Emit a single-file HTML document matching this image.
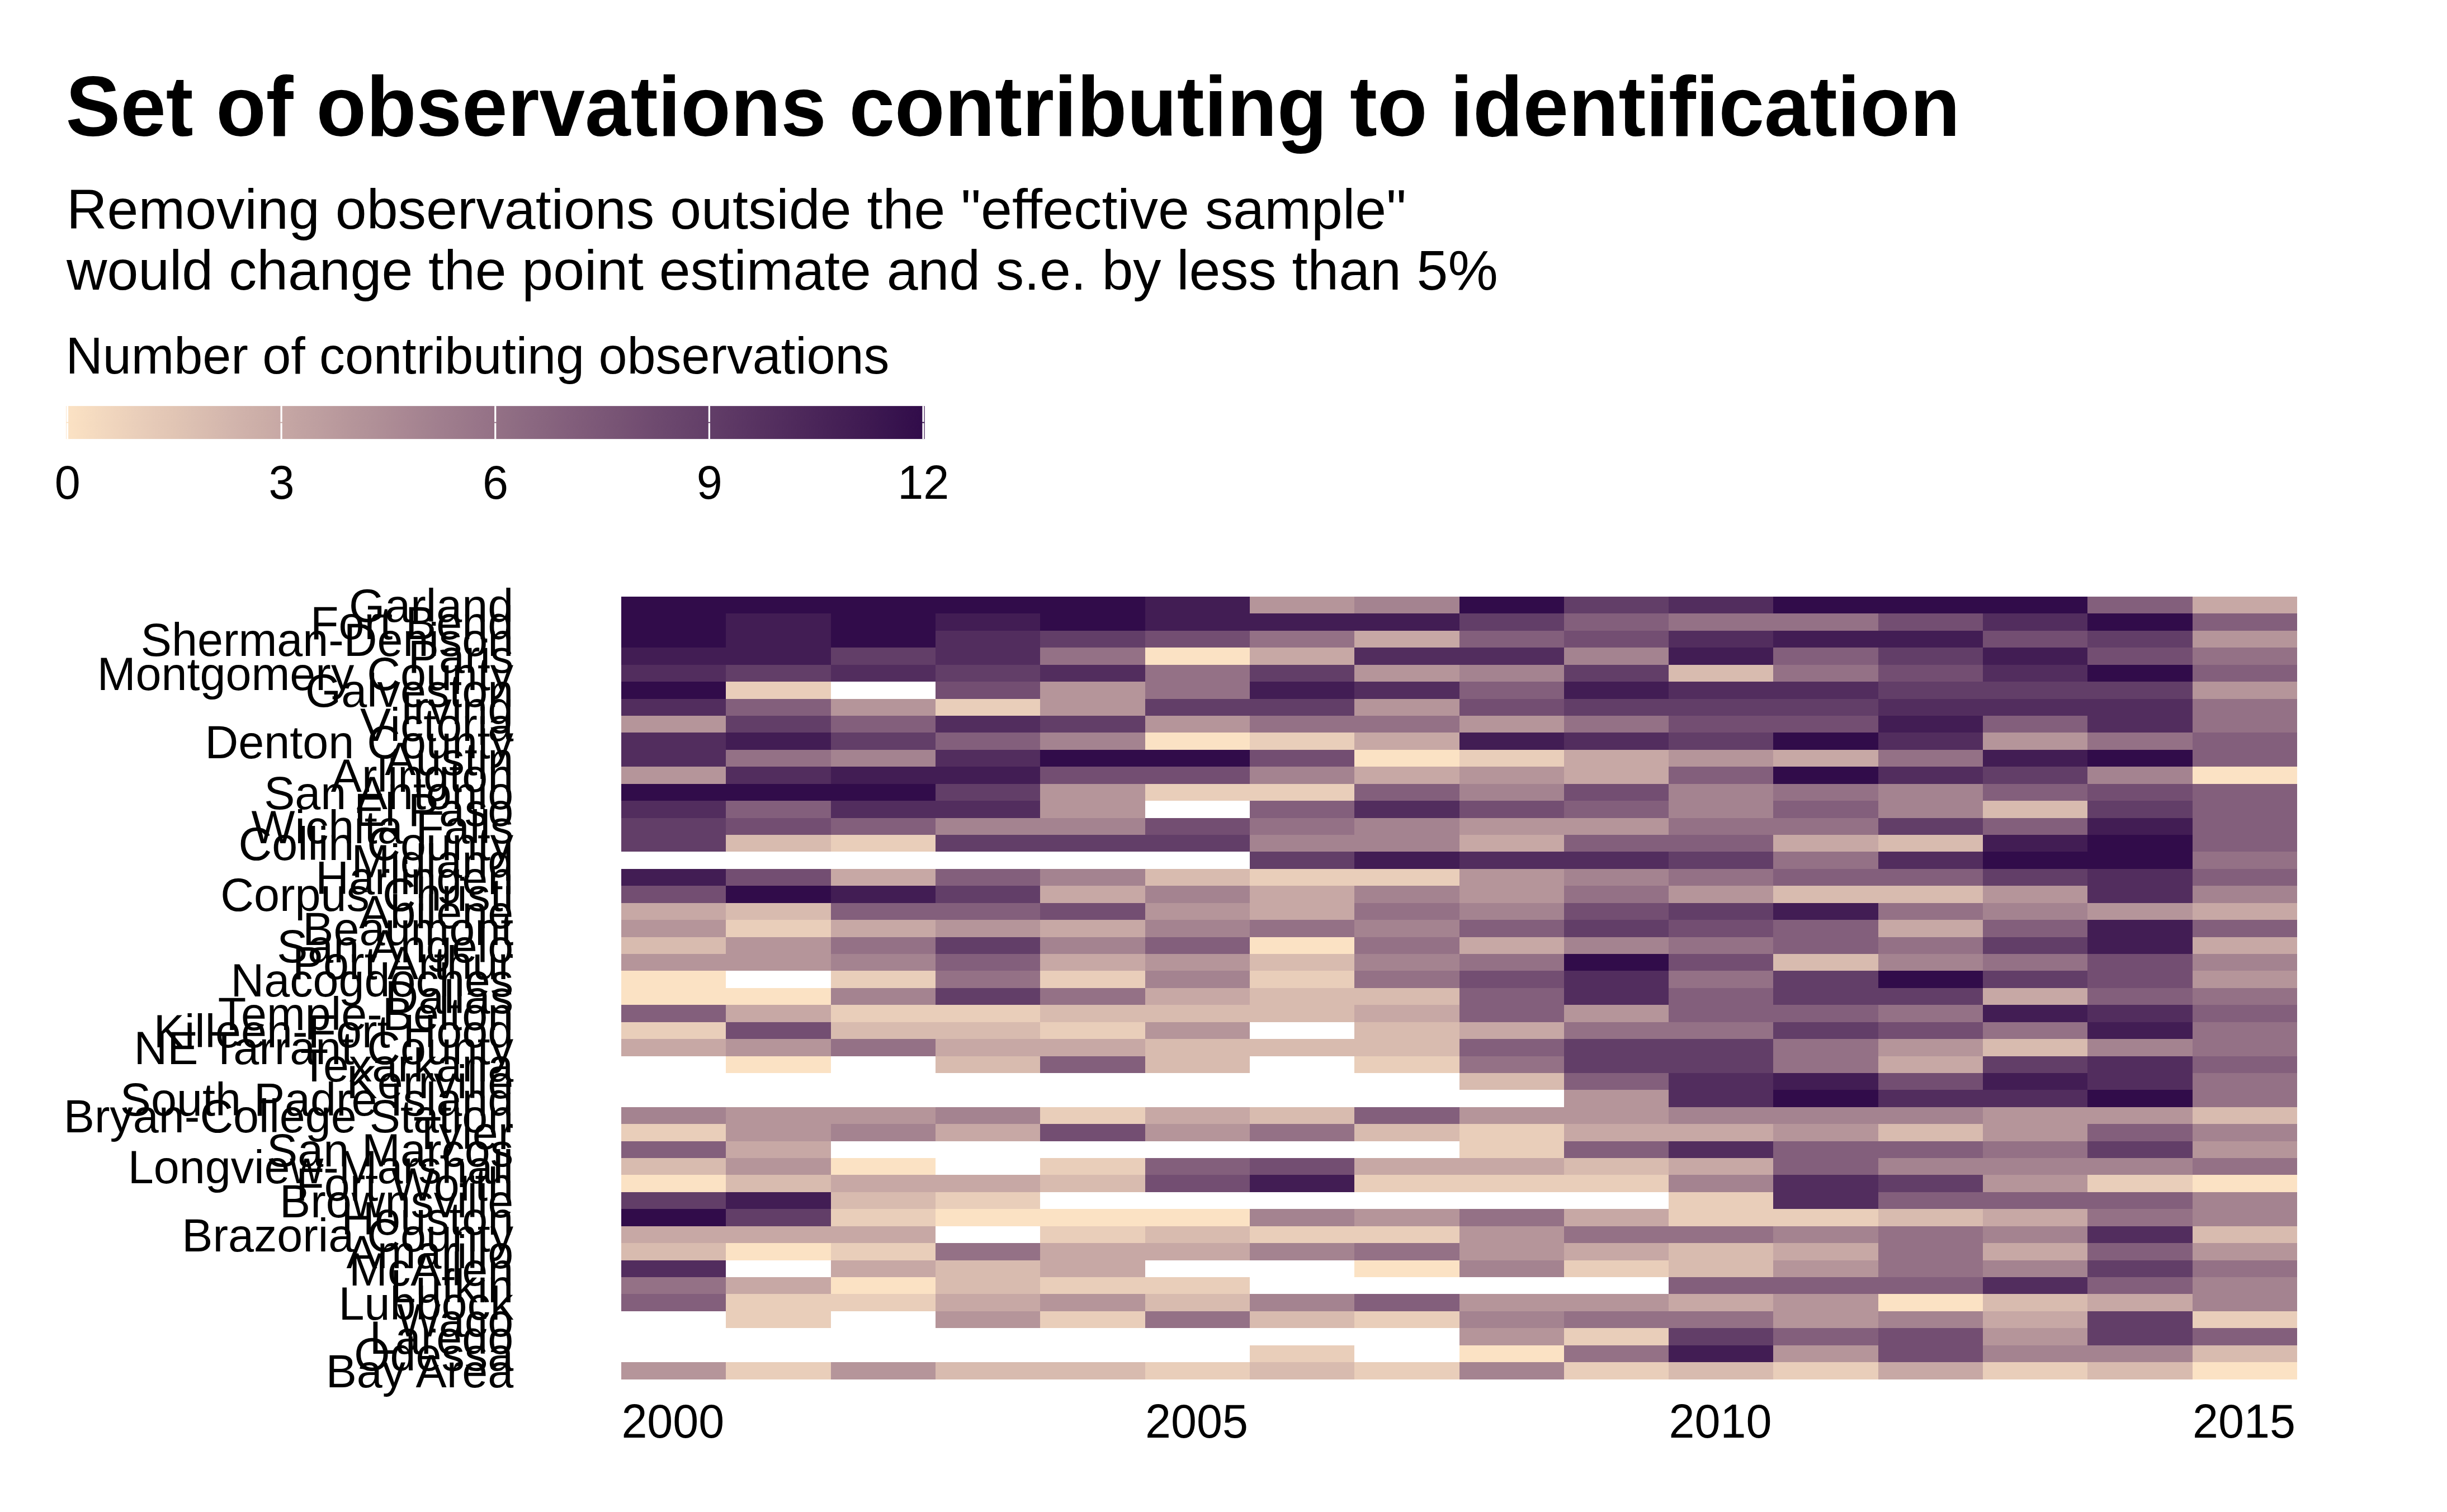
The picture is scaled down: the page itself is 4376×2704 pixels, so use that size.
<!DOCTYPE html>
<html><head><meta charset="utf-8"><title>Set of observations contributing to identification</title>
<style>html,body{margin:0;padding:0;background:#fff;}svg{display:block}text{font-family:"Liberation Sans",sans-serif;fill:#000}</style></head>
<body><svg width="4376" height="2704" viewBox="0 0 4376 2704"><defs><linearGradient id="lg" gradientUnits="userSpaceOnUse" x1="120.5" x2="1651" y1="0" y2="0"><stop offset="0.0000" stop-color="#fbe2c4"/><stop offset="0.0208" stop-color="#f7ddc1"/><stop offset="0.0417" stop-color="#f2d8bf"/><stop offset="0.0625" stop-color="#eed3bc"/><stop offset="0.0833" stop-color="#e9ceba"/><stop offset="0.1042" stop-color="#e5c9b7"/><stop offset="0.1250" stop-color="#e1c5b4"/><stop offset="0.1458" stop-color="#dcc0b2"/><stop offset="0.1667" stop-color="#d8bbaf"/><stop offset="0.1875" stop-color="#d3b6ad"/><stop offset="0.2083" stop-color="#cfb1aa"/><stop offset="0.2292" stop-color="#cbada7"/><stop offset="0.2500" stop-color="#c7a8a5"/><stop offset="0.2708" stop-color="#c2a3a2"/><stop offset="0.2917" stop-color="#be9fa0"/><stop offset="0.3125" stop-color="#ba9a9d"/><stop offset="0.3333" stop-color="#b5959a"/><stop offset="0.3542" stop-color="#b19198"/><stop offset="0.3750" stop-color="#ad8c95"/><stop offset="0.3958" stop-color="#a98793"/><stop offset="0.4167" stop-color="#a48390"/><stop offset="0.4375" stop-color="#a07e8e"/><stop offset="0.4583" stop-color="#9c7a8b"/><stop offset="0.4792" stop-color="#987589"/><stop offset="0.5000" stop-color="#947186"/><stop offset="0.5208" stop-color="#8f6d83"/><stop offset="0.5417" stop-color="#8b6881"/><stop offset="0.5625" stop-color="#87647e"/><stop offset="0.5833" stop-color="#835f7c"/><stop offset="0.6042" stop-color="#7f5b79"/><stop offset="0.6250" stop-color="#7b5777"/><stop offset="0.6458" stop-color="#775374"/><stop offset="0.6667" stop-color="#734e72"/><stop offset="0.6875" stop-color="#6e4a6f"/><stop offset="0.7083" stop-color="#6a466d"/><stop offset="0.7292" stop-color="#66426a"/><stop offset="0.7500" stop-color="#623e68"/><stop offset="0.7708" stop-color="#5e3965"/><stop offset="0.7917" stop-color="#5a3563"/><stop offset="0.8125" stop-color="#563160"/><stop offset="0.8333" stop-color="#522d5e"/><stop offset="0.8542" stop-color="#4e295b"/><stop offset="0.8750" stop-color="#4a2559"/><stop offset="0.8958" stop-color="#462156"/><stop offset="0.9167" stop-color="#421d54"/><stop offset="0.9375" stop-color="#3e1951"/><stop offset="0.9583" stop-color="#39154f"/><stop offset="0.9792" stop-color="#35104c"/><stop offset="1.0000" stop-color="#310c4a"/></linearGradient></defs>
<rect width="4376" height="2704" fill="#fff"/>
<g shape-rendering="crispEdges"><rect x="1111.00" y="1067.00" width="187.31" height="30.43" fill="#310c4a"/><rect x="1298.31" y="1067.00" width="187.31" height="30.43" fill="#310c4a"/><rect x="1485.62" y="1067.00" width="187.31" height="30.43" fill="#310c4a"/><rect x="1672.94" y="1067.00" width="187.31" height="30.43" fill="#310c4a"/><rect x="1860.25" y="1067.00" width="187.31" height="30.43" fill="#310c4a"/><rect x="2047.56" y="1067.00" width="187.31" height="30.43" fill="#421d54"/><rect x="2234.88" y="1067.00" width="187.31" height="30.43" fill="#b5959a"/><rect x="2422.19" y="1067.00" width="187.31" height="30.43" fill="#a48390"/><rect x="2609.50" y="1067.00" width="187.31" height="30.43" fill="#310c4a"/><rect x="2796.81" y="1067.00" width="187.31" height="30.43" fill="#623e68"/><rect x="2984.12" y="1067.00" width="187.31" height="30.43" fill="#522d5e"/><rect x="3171.44" y="1067.00" width="187.31" height="30.43" fill="#310c4a"/><rect x="3358.75" y="1067.00" width="187.31" height="30.43" fill="#310c4a"/><rect x="3546.06" y="1067.00" width="187.31" height="30.43" fill="#310c4a"/><rect x="3733.38" y="1067.00" width="187.31" height="30.43" fill="#835f7c"/><rect x="3920.69" y="1067.00" width="187.31" height="30.43" fill="#c7a8a5"/><rect x="1111.00" y="1097.43" width="187.31" height="30.43" fill="#310c4a"/><rect x="1298.31" y="1097.43" width="187.31" height="30.43" fill="#421d54"/><rect x="1485.62" y="1097.43" width="187.31" height="30.43" fill="#310c4a"/><rect x="1672.94" y="1097.43" width="187.31" height="30.43" fill="#421d54"/><rect x="1860.25" y="1097.43" width="187.31" height="30.43" fill="#310c4a"/><rect x="2047.56" y="1097.43" width="187.31" height="30.43" fill="#421d54"/><rect x="2234.88" y="1097.43" width="187.31" height="30.43" fill="#421d54"/><rect x="2422.19" y="1097.43" width="187.31" height="30.43" fill="#421d54"/><rect x="2609.50" y="1097.43" width="187.31" height="30.43" fill="#623e68"/><rect x="2796.81" y="1097.43" width="187.31" height="30.43" fill="#835f7c"/><rect x="2984.12" y="1097.43" width="187.31" height="30.43" fill="#947186"/><rect x="3171.44" y="1097.43" width="187.31" height="30.43" fill="#947186"/><rect x="3358.75" y="1097.43" width="187.31" height="30.43" fill="#734e72"/><rect x="3546.06" y="1097.43" width="187.31" height="30.43" fill="#522d5e"/><rect x="3733.38" y="1097.43" width="187.31" height="30.43" fill="#310c4a"/><rect x="3920.69" y="1097.43" width="187.31" height="30.43" fill="#835f7c"/><rect x="1111.00" y="1127.85" width="187.31" height="30.43" fill="#310c4a"/><rect x="1298.31" y="1127.85" width="187.31" height="30.43" fill="#421d54"/><rect x="1485.62" y="1127.85" width="187.31" height="30.43" fill="#310c4a"/><rect x="1672.94" y="1127.85" width="187.31" height="30.43" fill="#522d5e"/><rect x="1860.25" y="1127.85" width="187.31" height="30.43" fill="#623e68"/><rect x="2047.56" y="1127.85" width="187.31" height="30.43" fill="#734e72"/><rect x="2234.88" y="1127.85" width="187.31" height="30.43" fill="#947186"/><rect x="2422.19" y="1127.85" width="187.31" height="30.43" fill="#c7a8a5"/><rect x="2609.50" y="1127.85" width="187.31" height="30.43" fill="#835f7c"/><rect x="2796.81" y="1127.85" width="187.31" height="30.43" fill="#734e72"/><rect x="2984.12" y="1127.85" width="187.31" height="30.43" fill="#522d5e"/><rect x="3171.44" y="1127.85" width="187.31" height="30.43" fill="#421d54"/><rect x="3358.75" y="1127.85" width="187.31" height="30.43" fill="#421d54"/><rect x="3546.06" y="1127.85" width="187.31" height="30.43" fill="#734e72"/><rect x="3733.38" y="1127.85" width="187.31" height="30.43" fill="#623e68"/><rect x="3920.69" y="1127.85" width="187.31" height="30.43" fill="#b5959a"/><rect x="1111.00" y="1158.28" width="187.31" height="30.43" fill="#421d54"/><rect x="1298.31" y="1158.28" width="187.31" height="30.43" fill="#421d54"/><rect x="1485.62" y="1158.28" width="187.31" height="30.43" fill="#623e68"/><rect x="1672.94" y="1158.28" width="187.31" height="30.43" fill="#522d5e"/><rect x="1860.25" y="1158.28" width="187.31" height="30.43" fill="#947186"/><rect x="2047.56" y="1158.28" width="187.31" height="30.43" fill="#fbe2c4"/><rect x="2234.88" y="1158.28" width="187.31" height="30.43" fill="#c7a8a5"/><rect x="2422.19" y="1158.28" width="187.31" height="30.43" fill="#522d5e"/><rect x="2609.50" y="1158.28" width="187.31" height="30.43" fill="#522d5e"/><rect x="2796.81" y="1158.28" width="187.31" height="30.43" fill="#a48390"/><rect x="2984.12" y="1158.28" width="187.31" height="30.43" fill="#421d54"/><rect x="3171.44" y="1158.28" width="187.31" height="30.43" fill="#835f7c"/><rect x="3358.75" y="1158.28" width="187.31" height="30.43" fill="#623e68"/><rect x="3546.06" y="1158.28" width="187.31" height="30.43" fill="#421d54"/><rect x="3733.38" y="1158.28" width="187.31" height="30.43" fill="#734e72"/><rect x="3920.69" y="1158.28" width="187.31" height="30.43" fill="#947186"/><rect x="1111.00" y="1188.70" width="187.31" height="30.43" fill="#522d5e"/><rect x="1298.31" y="1188.70" width="187.31" height="30.43" fill="#623e68"/><rect x="1485.62" y="1188.70" width="187.31" height="30.43" fill="#522d5e"/><rect x="1672.94" y="1188.70" width="187.31" height="30.43" fill="#623e68"/><rect x="1860.25" y="1188.70" width="187.31" height="30.43" fill="#522d5e"/><rect x="2047.56" y="1188.70" width="187.31" height="30.43" fill="#947186"/><rect x="2234.88" y="1188.70" width="187.31" height="30.43" fill="#623e68"/><rect x="2422.19" y="1188.70" width="187.31" height="30.43" fill="#b5959a"/><rect x="2609.50" y="1188.70" width="187.31" height="30.43" fill="#a48390"/><rect x="2796.81" y="1188.70" width="187.31" height="30.43" fill="#623e68"/><rect x="2984.12" y="1188.70" width="187.31" height="30.43" fill="#d8bbaf"/><rect x="3171.44" y="1188.70" width="187.31" height="30.43" fill="#947186"/><rect x="3358.75" y="1188.70" width="187.31" height="30.43" fill="#734e72"/><rect x="3546.06" y="1188.70" width="187.31" height="30.43" fill="#522d5e"/><rect x="3733.38" y="1188.70" width="187.31" height="30.43" fill="#310c4a"/><rect x="3920.69" y="1188.70" width="187.31" height="30.43" fill="#835f7c"/><rect x="1111.00" y="1219.13" width="187.31" height="30.43" fill="#310c4a"/><rect x="1298.31" y="1219.13" width="187.31" height="30.43" fill="#e9ceba"/><rect x="1672.94" y="1219.13" width="187.31" height="30.43" fill="#734e72"/><rect x="1860.25" y="1219.13" width="187.31" height="30.43" fill="#b5959a"/><rect x="2047.56" y="1219.13" width="187.31" height="30.43" fill="#947186"/><rect x="2234.88" y="1219.13" width="187.31" height="30.43" fill="#421d54"/><rect x="2422.19" y="1219.13" width="187.31" height="30.43" fill="#522d5e"/><rect x="2609.50" y="1219.13" width="187.31" height="30.43" fill="#835f7c"/><rect x="2796.81" y="1219.13" width="187.31" height="30.43" fill="#421d54"/><rect x="2984.12" y="1219.13" width="187.31" height="30.43" fill="#522d5e"/><rect x="3171.44" y="1219.13" width="187.31" height="30.43" fill="#522d5e"/><rect x="3358.75" y="1219.13" width="187.31" height="30.43" fill="#623e68"/><rect x="3546.06" y="1219.13" width="187.31" height="30.43" fill="#623e68"/><rect x="3733.38" y="1219.13" width="187.31" height="30.43" fill="#623e68"/><rect x="3920.69" y="1219.13" width="187.31" height="30.43" fill="#b5959a"/><rect x="1111.00" y="1249.56" width="187.31" height="30.43" fill="#522d5e"/><rect x="1298.31" y="1249.56" width="187.31" height="30.43" fill="#835f7c"/><rect x="1485.62" y="1249.56" width="187.31" height="30.43" fill="#b5959a"/><rect x="1672.94" y="1249.56" width="187.31" height="30.43" fill="#e9ceba"/><rect x="1860.25" y="1249.56" width="187.31" height="30.43" fill="#b5959a"/><rect x="2047.56" y="1249.56" width="187.31" height="30.43" fill="#623e68"/><rect x="2234.88" y="1249.56" width="187.31" height="30.43" fill="#623e68"/><rect x="2422.19" y="1249.56" width="187.31" height="30.43" fill="#b5959a"/><rect x="2609.50" y="1249.56" width="187.31" height="30.43" fill="#734e72"/><rect x="2796.81" y="1249.56" width="187.31" height="30.43" fill="#623e68"/><rect x="2984.12" y="1249.56" width="187.31" height="30.43" fill="#623e68"/><rect x="3171.44" y="1249.56" width="187.31" height="30.43" fill="#623e68"/><rect x="3358.75" y="1249.56" width="187.31" height="30.43" fill="#522d5e"/><rect x="3546.06" y="1249.56" width="187.31" height="30.43" fill="#522d5e"/><rect x="3733.38" y="1249.56" width="187.31" height="30.43" fill="#522d5e"/><rect x="3920.69" y="1249.56" width="187.31" height="30.43" fill="#947186"/><rect x="1111.00" y="1279.98" width="187.31" height="30.43" fill="#b5959a"/><rect x="1298.31" y="1279.98" width="187.31" height="30.43" fill="#623e68"/><rect x="1485.62" y="1279.98" width="187.31" height="30.43" fill="#835f7c"/><rect x="1672.94" y="1279.98" width="187.31" height="30.43" fill="#522d5e"/><rect x="1860.25" y="1279.98" width="187.31" height="30.43" fill="#623e68"/><rect x="2047.56" y="1279.98" width="187.31" height="30.43" fill="#b5959a"/><rect x="2234.88" y="1279.98" width="187.31" height="30.43" fill="#947186"/><rect x="2422.19" y="1279.98" width="187.31" height="30.43" fill="#947186"/><rect x="2609.50" y="1279.98" width="187.31" height="30.43" fill="#b5959a"/><rect x="2796.81" y="1279.98" width="187.31" height="30.43" fill="#947186"/><rect x="2984.12" y="1279.98" width="187.31" height="30.43" fill="#734e72"/><rect x="3171.44" y="1279.98" width="187.31" height="30.43" fill="#734e72"/><rect x="3358.75" y="1279.98" width="187.31" height="30.43" fill="#421d54"/><rect x="3546.06" y="1279.98" width="187.31" height="30.43" fill="#835f7c"/><rect x="3733.38" y="1279.98" width="187.31" height="30.43" fill="#522d5e"/><rect x="3920.69" y="1279.98" width="187.31" height="30.43" fill="#947186"/><rect x="1111.00" y="1310.41" width="187.31" height="30.43" fill="#522d5e"/><rect x="1298.31" y="1310.41" width="187.31" height="30.43" fill="#421d54"/><rect x="1485.62" y="1310.41" width="187.31" height="30.43" fill="#623e68"/><rect x="1672.94" y="1310.41" width="187.31" height="30.43" fill="#835f7c"/><rect x="1860.25" y="1310.41" width="187.31" height="30.43" fill="#a48390"/><rect x="2047.56" y="1310.41" width="187.31" height="30.43" fill="#fbe2c4"/><rect x="2234.88" y="1310.41" width="187.31" height="30.43" fill="#e9ceba"/><rect x="2422.19" y="1310.41" width="187.31" height="30.43" fill="#c7a8a5"/><rect x="2609.50" y="1310.41" width="187.31" height="30.43" fill="#421d54"/><rect x="2796.81" y="1310.41" width="187.31" height="30.43" fill="#522d5e"/><rect x="2984.12" y="1310.41" width="187.31" height="30.43" fill="#623e68"/><rect x="3171.44" y="1310.41" width="187.31" height="30.43" fill="#310c4a"/><rect x="3358.75" y="1310.41" width="187.31" height="30.43" fill="#522d5e"/><rect x="3546.06" y="1310.41" width="187.31" height="30.43" fill="#b5959a"/><rect x="3733.38" y="1310.41" width="187.31" height="30.43" fill="#947186"/><rect x="3920.69" y="1310.41" width="187.31" height="30.43" fill="#835f7c"/><rect x="1111.00" y="1340.83" width="187.31" height="30.43" fill="#522d5e"/><rect x="1298.31" y="1340.83" width="187.31" height="30.43" fill="#947186"/><rect x="1485.62" y="1340.83" width="187.31" height="30.43" fill="#a48390"/><rect x="1672.94" y="1340.83" width="187.31" height="30.43" fill="#522d5e"/><rect x="1860.25" y="1340.83" width="187.31" height="30.43" fill="#310c4a"/><rect x="2047.56" y="1340.83" width="187.31" height="30.43" fill="#310c4a"/><rect x="2234.88" y="1340.83" width="187.31" height="30.43" fill="#734e72"/><rect x="2422.19" y="1340.83" width="187.31" height="30.43" fill="#fbe2c4"/><rect x="2609.50" y="1340.83" width="187.31" height="30.43" fill="#e9ceba"/><rect x="2796.81" y="1340.83" width="187.31" height="30.43" fill="#c7a8a5"/><rect x="2984.12" y="1340.83" width="187.31" height="30.43" fill="#b5959a"/><rect x="3171.44" y="1340.83" width="187.31" height="30.43" fill="#c7a8a5"/><rect x="3358.75" y="1340.83" width="187.31" height="30.43" fill="#947186"/><rect x="3546.06" y="1340.83" width="187.31" height="30.43" fill="#421d54"/><rect x="3733.38" y="1340.83" width="187.31" height="30.43" fill="#310c4a"/><rect x="3920.69" y="1340.83" width="187.31" height="30.43" fill="#835f7c"/><rect x="1111.00" y="1371.26" width="187.31" height="30.43" fill="#b5959a"/><rect x="1298.31" y="1371.26" width="187.31" height="30.43" fill="#522d5e"/><rect x="1485.62" y="1371.26" width="187.31" height="30.43" fill="#421d54"/><rect x="1672.94" y="1371.26" width="187.31" height="30.43" fill="#421d54"/><rect x="1860.25" y="1371.26" width="187.31" height="30.43" fill="#734e72"/><rect x="2047.56" y="1371.26" width="187.31" height="30.43" fill="#734e72"/><rect x="2234.88" y="1371.26" width="187.31" height="30.43" fill="#a48390"/><rect x="2422.19" y="1371.26" width="187.31" height="30.43" fill="#c7a8a5"/><rect x="2609.50" y="1371.26" width="187.31" height="30.43" fill="#b5959a"/><rect x="2796.81" y="1371.26" width="187.31" height="30.43" fill="#c7a8a5"/><rect x="2984.12" y="1371.26" width="187.31" height="30.43" fill="#835f7c"/><rect x="3171.44" y="1371.26" width="187.31" height="30.43" fill="#310c4a"/><rect x="3358.75" y="1371.26" width="187.31" height="30.43" fill="#522d5e"/><rect x="3546.06" y="1371.26" width="187.31" height="30.43" fill="#623e68"/><rect x="3733.38" y="1371.26" width="187.31" height="30.43" fill="#a48390"/><rect x="3920.69" y="1371.26" width="187.31" height="30.43" fill="#fbe2c4"/><rect x="1111.00" y="1401.69" width="187.31" height="30.43" fill="#310c4a"/><rect x="1298.31" y="1401.69" width="187.31" height="30.43" fill="#310c4a"/><rect x="1485.62" y="1401.69" width="187.31" height="30.43" fill="#310c4a"/><rect x="1672.94" y="1401.69" width="187.31" height="30.43" fill="#623e68"/><rect x="1860.25" y="1401.69" width="187.31" height="30.43" fill="#b5959a"/><rect x="2047.56" y="1401.69" width="187.31" height="30.43" fill="#e9ceba"/><rect x="2234.88" y="1401.69" width="187.31" height="30.43" fill="#e9ceba"/><rect x="2422.19" y="1401.69" width="187.31" height="30.43" fill="#835f7c"/><rect x="2609.50" y="1401.69" width="187.31" height="30.43" fill="#a48390"/><rect x="2796.81" y="1401.69" width="187.31" height="30.43" fill="#734e72"/><rect x="2984.12" y="1401.69" width="187.31" height="30.43" fill="#a48390"/><rect x="3171.44" y="1401.69" width="187.31" height="30.43" fill="#947186"/><rect x="3358.75" y="1401.69" width="187.31" height="30.43" fill="#a48390"/><rect x="3546.06" y="1401.69" width="187.31" height="30.43" fill="#835f7c"/><rect x="3733.38" y="1401.69" width="187.31" height="30.43" fill="#734e72"/><rect x="3920.69" y="1401.69" width="187.31" height="30.43" fill="#835f7c"/><rect x="1111.00" y="1432.11" width="187.31" height="30.43" fill="#522d5e"/><rect x="1298.31" y="1432.11" width="187.31" height="30.43" fill="#835f7c"/><rect x="1485.62" y="1432.11" width="187.31" height="30.43" fill="#522d5e"/><rect x="1672.94" y="1432.11" width="187.31" height="30.43" fill="#522d5e"/><rect x="1860.25" y="1432.11" width="187.31" height="30.43" fill="#b5959a"/><rect x="2234.88" y="1432.11" width="187.31" height="30.43" fill="#835f7c"/><rect x="2422.19" y="1432.11" width="187.31" height="30.43" fill="#522d5e"/><rect x="2609.50" y="1432.11" width="187.31" height="30.43" fill="#734e72"/><rect x="2796.81" y="1432.11" width="187.31" height="30.43" fill="#835f7c"/><rect x="2984.12" y="1432.11" width="187.31" height="30.43" fill="#a48390"/><rect x="3171.44" y="1432.11" width="187.31" height="30.43" fill="#835f7c"/><rect x="3358.75" y="1432.11" width="187.31" height="30.43" fill="#a48390"/><rect x="3546.06" y="1432.11" width="187.31" height="30.43" fill="#d8bbaf"/><rect x="3733.38" y="1432.11" width="187.31" height="30.43" fill="#623e68"/><rect x="3920.69" y="1432.11" width="187.31" height="30.43" fill="#835f7c"/><rect x="1111.00" y="1462.54" width="187.31" height="30.43" fill="#623e68"/><rect x="1298.31" y="1462.54" width="187.31" height="30.43" fill="#734e72"/><rect x="1485.62" y="1462.54" width="187.31" height="30.43" fill="#835f7c"/><rect x="1672.94" y="1462.54" width="187.31" height="30.43" fill="#a48390"/><rect x="1860.25" y="1462.54" width="187.31" height="30.43" fill="#a48390"/><rect x="2047.56" y="1462.54" width="187.31" height="30.43" fill="#734e72"/><rect x="2234.88" y="1462.54" width="187.31" height="30.43" fill="#947186"/><rect x="2422.19" y="1462.54" width="187.31" height="30.43" fill="#a48390"/><rect x="2609.50" y="1462.54" width="187.31" height="30.43" fill="#b5959a"/><rect x="2796.81" y="1462.54" width="187.31" height="30.43" fill="#b5959a"/><rect x="2984.12" y="1462.54" width="187.31" height="30.43" fill="#947186"/><rect x="3171.44" y="1462.54" width="187.31" height="30.43" fill="#947186"/><rect x="3358.75" y="1462.54" width="187.31" height="30.43" fill="#623e68"/><rect x="3546.06" y="1462.54" width="187.31" height="30.43" fill="#835f7c"/><rect x="3733.38" y="1462.54" width="187.31" height="30.43" fill="#421d54"/><rect x="3920.69" y="1462.54" width="187.31" height="30.43" fill="#835f7c"/><rect x="1111.00" y="1492.97" width="187.31" height="30.43" fill="#623e68"/><rect x="1298.31" y="1492.97" width="187.31" height="30.43" fill="#d8bbaf"/><rect x="1485.62" y="1492.97" width="187.31" height="30.43" fill="#e9ceba"/><rect x="1672.94" y="1492.97" width="187.31" height="30.43" fill="#623e68"/><rect x="1860.25" y="1492.97" width="187.31" height="30.43" fill="#623e68"/><rect x="2047.56" y="1492.97" width="187.31" height="30.43" fill="#623e68"/><rect x="2234.88" y="1492.97" width="187.31" height="30.43" fill="#a48390"/><rect x="2422.19" y="1492.97" width="187.31" height="30.43" fill="#a48390"/><rect x="2609.50" y="1492.97" width="187.31" height="30.43" fill="#c7a8a5"/><rect x="2796.81" y="1492.97" width="187.31" height="30.43" fill="#835f7c"/><rect x="2984.12" y="1492.97" width="187.31" height="30.43" fill="#835f7c"/><rect x="3171.44" y="1492.97" width="187.31" height="30.43" fill="#c7a8a5"/><rect x="3358.75" y="1492.97" width="187.31" height="30.43" fill="#d8bbaf"/><rect x="3546.06" y="1492.97" width="187.31" height="30.43" fill="#421d54"/><rect x="3733.38" y="1492.97" width="187.31" height="30.43" fill="#310c4a"/><rect x="3920.69" y="1492.97" width="187.31" height="30.43" fill="#835f7c"/><rect x="2234.88" y="1523.39" width="187.31" height="30.43" fill="#623e68"/><rect x="2422.19" y="1523.39" width="187.31" height="30.43" fill="#421d54"/><rect x="2609.50" y="1523.39" width="187.31" height="30.43" fill="#522d5e"/><rect x="2796.81" y="1523.39" width="187.31" height="30.43" fill="#522d5e"/><rect x="2984.12" y="1523.39" width="187.31" height="30.43" fill="#623e68"/><rect x="3171.44" y="1523.39" width="187.31" height="30.43" fill="#947186"/><rect x="3358.75" y="1523.39" width="187.31" height="30.43" fill="#522d5e"/><rect x="3546.06" y="1523.39" width="187.31" height="30.43" fill="#310c4a"/><rect x="3733.38" y="1523.39" width="187.31" height="30.43" fill="#310c4a"/><rect x="3920.69" y="1523.39" width="187.31" height="30.43" fill="#947186"/><rect x="1111.00" y="1553.82" width="187.31" height="30.43" fill="#421d54"/><rect x="1298.31" y="1553.82" width="187.31" height="30.43" fill="#734e72"/><rect x="1485.62" y="1553.82" width="187.31" height="30.43" fill="#c7a8a5"/><rect x="1672.94" y="1553.82" width="187.31" height="30.43" fill="#835f7c"/><rect x="1860.25" y="1553.82" width="187.31" height="30.43" fill="#a48390"/><rect x="2047.56" y="1553.82" width="187.31" height="30.43" fill="#d8bbaf"/><rect x="2234.88" y="1553.82" width="187.31" height="30.43" fill="#e9ceba"/><rect x="2422.19" y="1553.82" width="187.31" height="30.43" fill="#e9ceba"/><rect x="2609.50" y="1553.82" width="187.31" height="30.43" fill="#b5959a"/><rect x="2796.81" y="1553.82" width="187.31" height="30.43" fill="#a48390"/><rect x="2984.12" y="1553.82" width="187.31" height="30.43" fill="#947186"/><rect x="3171.44" y="1553.82" width="187.31" height="30.43" fill="#835f7c"/><rect x="3358.75" y="1553.82" width="187.31" height="30.43" fill="#835f7c"/><rect x="3546.06" y="1553.82" width="187.31" height="30.43" fill="#623e68"/><rect x="3733.38" y="1553.82" width="187.31" height="30.43" fill="#522d5e"/><rect x="3920.69" y="1553.82" width="187.31" height="30.43" fill="#835f7c"/><rect x="1111.00" y="1584.24" width="187.31" height="30.43" fill="#734e72"/><rect x="1298.31" y="1584.24" width="187.31" height="30.43" fill="#310c4a"/><rect x="1485.62" y="1584.24" width="187.31" height="30.43" fill="#421d54"/><rect x="1672.94" y="1584.24" width="187.31" height="30.43" fill="#623e68"/><rect x="1860.25" y="1584.24" width="187.31" height="30.43" fill="#c7a8a5"/><rect x="2047.56" y="1584.24" width="187.31" height="30.43" fill="#a48390"/><rect x="2234.88" y="1584.24" width="187.31" height="30.43" fill="#c7a8a5"/><rect x="2422.19" y="1584.24" width="187.31" height="30.43" fill="#a48390"/><rect x="2609.50" y="1584.24" width="187.31" height="30.43" fill="#b5959a"/><rect x="2796.81" y="1584.24" width="187.31" height="30.43" fill="#947186"/><rect x="2984.12" y="1584.24" width="187.31" height="30.43" fill="#b5959a"/><rect x="3171.44" y="1584.24" width="187.31" height="30.43" fill="#d8bbaf"/><rect x="3358.75" y="1584.24" width="187.31" height="30.43" fill="#d8bbaf"/><rect x="3546.06" y="1584.24" width="187.31" height="30.43" fill="#b5959a"/><rect x="3733.38" y="1584.24" width="187.31" height="30.43" fill="#522d5e"/><rect x="3920.69" y="1584.24" width="187.31" height="30.43" fill="#a48390"/><rect x="1111.00" y="1614.67" width="187.31" height="30.43" fill="#c7a8a5"/><rect x="1298.31" y="1614.67" width="187.31" height="30.43" fill="#d8bbaf"/><rect x="1485.62" y="1614.67" width="187.31" height="30.43" fill="#835f7c"/><rect x="1672.94" y="1614.67" width="187.31" height="30.43" fill="#835f7c"/><rect x="1860.25" y="1614.67" width="187.31" height="30.43" fill="#734e72"/><rect x="2047.56" y="1614.67" width="187.31" height="30.43" fill="#b5959a"/><rect x="2234.88" y="1614.67" width="187.31" height="30.43" fill="#c7a8a5"/><rect x="2422.19" y="1614.67" width="187.31" height="30.43" fill="#947186"/><rect x="2609.50" y="1614.67" width="187.31" height="30.43" fill="#a48390"/><rect x="2796.81" y="1614.67" width="187.31" height="30.43" fill="#734e72"/><rect x="2984.12" y="1614.67" width="187.31" height="30.43" fill="#623e68"/><rect x="3171.44" y="1614.67" width="187.31" height="30.43" fill="#421d54"/><rect x="3358.75" y="1614.67" width="187.31" height="30.43" fill="#947186"/><rect x="3546.06" y="1614.67" width="187.31" height="30.43" fill="#a48390"/><rect x="3733.38" y="1614.67" width="187.31" height="30.43" fill="#b5959a"/><rect x="3920.69" y="1614.67" width="187.31" height="30.43" fill="#c7a8a5"/><rect x="1111.00" y="1645.10" width="187.31" height="30.43" fill="#b5959a"/><rect x="1298.31" y="1645.10" width="187.31" height="30.43" fill="#e9ceba"/><rect x="1485.62" y="1645.10" width="187.31" height="30.43" fill="#c7a8a5"/><rect x="1672.94" y="1645.10" width="187.31" height="30.43" fill="#b5959a"/><rect x="1860.25" y="1645.10" width="187.31" height="30.43" fill="#c7a8a5"/><rect x="2047.56" y="1645.10" width="187.31" height="30.43" fill="#a48390"/><rect x="2234.88" y="1645.10" width="187.31" height="30.43" fill="#947186"/><rect x="2422.19" y="1645.10" width="187.31" height="30.43" fill="#a48390"/><rect x="2609.50" y="1645.10" width="187.31" height="30.43" fill="#835f7c"/><rect x="2796.81" y="1645.10" width="187.31" height="30.43" fill="#623e68"/><rect x="2984.12" y="1645.10" width="187.31" height="30.43" fill="#734e72"/><rect x="3171.44" y="1645.10" width="187.31" height="30.43" fill="#835f7c"/><rect x="3358.75" y="1645.10" width="187.31" height="30.43" fill="#c7a8a5"/><rect x="3546.06" y="1645.10" width="187.31" height="30.43" fill="#835f7c"/><rect x="3733.38" y="1645.10" width="187.31" height="30.43" fill="#421d54"/><rect x="3920.69" y="1645.10" width="187.31" height="30.43" fill="#835f7c"/><rect x="1111.00" y="1675.52" width="187.31" height="30.43" fill="#d8bbaf"/><rect x="1298.31" y="1675.52" width="187.31" height="30.43" fill="#b5959a"/><rect x="1485.62" y="1675.52" width="187.31" height="30.43" fill="#947186"/><rect x="1672.94" y="1675.52" width="187.31" height="30.43" fill="#623e68"/><rect x="1860.25" y="1675.52" width="187.31" height="30.43" fill="#a48390"/><rect x="2047.56" y="1675.52" width="187.31" height="30.43" fill="#835f7c"/><rect x="2234.88" y="1675.52" width="187.31" height="30.43" fill="#fbe2c4"/><rect x="2422.19" y="1675.52" width="187.31" height="30.43" fill="#947186"/><rect x="2609.50" y="1675.52" width="187.31" height="30.43" fill="#c7a8a5"/><rect x="2796.81" y="1675.52" width="187.31" height="30.43" fill="#a48390"/><rect x="2984.12" y="1675.52" width="187.31" height="30.43" fill="#947186"/><rect x="3171.44" y="1675.52" width="187.31" height="30.43" fill="#835f7c"/><rect x="3358.75" y="1675.52" width="187.31" height="30.43" fill="#947186"/><rect x="3546.06" y="1675.52" width="187.31" height="30.43" fill="#623e68"/><rect x="3733.38" y="1675.52" width="187.31" height="30.43" fill="#421d54"/><rect x="3920.69" y="1675.52" width="187.31" height="30.43" fill="#c7a8a5"/><rect x="1111.00" y="1705.95" width="187.31" height="30.43" fill="#b5959a"/><rect x="1298.31" y="1705.95" width="187.31" height="30.43" fill="#b5959a"/><rect x="1485.62" y="1705.95" width="187.31" height="30.43" fill="#a48390"/><rect x="1672.94" y="1705.95" width="187.31" height="30.43" fill="#835f7c"/><rect x="1860.25" y="1705.95" width="187.31" height="30.43" fill="#c7a8a5"/><rect x="2047.56" y="1705.95" width="187.31" height="30.43" fill="#b5959a"/><rect x="2234.88" y="1705.95" width="187.31" height="30.43" fill="#d8bbaf"/><rect x="2422.19" y="1705.95" width="187.31" height="30.43" fill="#a48390"/><rect x="2609.50" y="1705.95" width="187.31" height="30.43" fill="#947186"/><rect x="2796.81" y="1705.95" width="187.31" height="30.43" fill="#310c4a"/><rect x="2984.12" y="1705.95" width="187.31" height="30.43" fill="#734e72"/><rect x="3171.44" y="1705.95" width="187.31" height="30.43" fill="#d8bbaf"/><rect x="3358.75" y="1705.95" width="187.31" height="30.43" fill="#a48390"/><rect x="3546.06" y="1705.95" width="187.31" height="30.43" fill="#947186"/><rect x="3733.38" y="1705.95" width="187.31" height="30.43" fill="#734e72"/><rect x="3920.69" y="1705.95" width="187.31" height="30.43" fill="#a48390"/><rect x="1111.00" y="1736.37" width="187.31" height="30.43" fill="#fbe2c4"/><rect x="1485.62" y="1736.37" width="187.31" height="30.43" fill="#e9ceba"/><rect x="1672.94" y="1736.37" width="187.31" height="30.43" fill="#947186"/><rect x="1860.25" y="1736.37" width="187.31" height="30.43" fill="#e9ceba"/><rect x="2047.56" y="1736.37" width="187.31" height="30.43" fill="#a48390"/><rect x="2234.88" y="1736.37" width="187.31" height="30.43" fill="#e9ceba"/><rect x="2422.19" y="1736.37" width="187.31" height="30.43" fill="#947186"/><rect x="2609.50" y="1736.37" width="187.31" height="30.43" fill="#734e72"/><rect x="2796.81" y="1736.37" width="187.31" height="30.43" fill="#522d5e"/><rect x="2984.12" y="1736.37" width="187.31" height="30.43" fill="#947186"/><rect x="3171.44" y="1736.37" width="187.31" height="30.43" fill="#623e68"/><rect x="3358.75" y="1736.37" width="187.31" height="30.43" fill="#310c4a"/><rect x="3546.06" y="1736.37" width="187.31" height="30.43" fill="#623e68"/><rect x="3733.38" y="1736.37" width="187.31" height="30.43" fill="#734e72"/><rect x="3920.69" y="1736.37" width="187.31" height="30.43" fill="#b5959a"/><rect x="1111.00" y="1766.80" width="187.31" height="30.43" fill="#fbe2c4"/><rect x="1298.31" y="1766.80" width="187.31" height="30.43" fill="#fbe2c4"/><rect x="1485.62" y="1766.80" width="187.31" height="30.43" fill="#a48390"/><rect x="1672.94" y="1766.80" width="187.31" height="30.43" fill="#623e68"/><rect x="1860.25" y="1766.80" width="187.31" height="30.43" fill="#947186"/><rect x="2047.56" y="1766.80" width="187.31" height="30.43" fill="#c7a8a5"/><rect x="2234.88" y="1766.80" width="187.31" height="30.43" fill="#d8bbaf"/><rect x="2422.19" y="1766.80" width="187.31" height="30.43" fill="#d8bbaf"/><rect x="2609.50" y="1766.80" width="187.31" height="30.43" fill="#835f7c"/><rect x="2796.81" y="1766.80" width="187.31" height="30.43" fill="#522d5e"/><rect x="2984.12" y="1766.80" width="187.31" height="30.43" fill="#835f7c"/><rect x="3171.44" y="1766.80" width="187.31" height="30.43" fill="#623e68"/><rect x="3358.75" y="1766.80" width="187.31" height="30.43" fill="#623e68"/><rect x="3546.06" y="1766.80" width="187.31" height="30.43" fill="#c7a8a5"/><rect x="3733.38" y="1766.80" width="187.31" height="30.43" fill="#835f7c"/><rect x="3920.69" y="1766.80" width="187.31" height="30.43" fill="#947186"/><rect x="1111.00" y="1797.23" width="187.31" height="30.43" fill="#835f7c"/><rect x="1298.31" y="1797.23" width="187.31" height="30.43" fill="#c7a8a5"/><rect x="1485.62" y="1797.23" width="187.31" height="30.43" fill="#e9ceba"/><rect x="1672.94" y="1797.23" width="187.31" height="30.43" fill="#e9ceba"/><rect x="1860.25" y="1797.23" width="187.31" height="30.43" fill="#d8bbaf"/><rect x="2047.56" y="1797.23" width="187.31" height="30.43" fill="#d8bbaf"/><rect x="2234.88" y="1797.23" width="187.31" height="30.43" fill="#d8bbaf"/><rect x="2422.19" y="1797.23" width="187.31" height="30.43" fill="#c7a8a5"/><rect x="2609.50" y="1797.23" width="187.31" height="30.43" fill="#835f7c"/><rect x="2796.81" y="1797.23" width="187.31" height="30.43" fill="#b5959a"/><rect x="2984.12" y="1797.23" width="187.31" height="30.43" fill="#835f7c"/><rect x="3171.44" y="1797.23" width="187.31" height="30.43" fill="#835f7c"/><rect x="3358.75" y="1797.23" width="187.31" height="30.43" fill="#947186"/><rect x="3546.06" y="1797.23" width="187.31" height="30.43" fill="#421d54"/><rect x="3733.38" y="1797.23" width="187.31" height="30.43" fill="#522d5e"/><rect x="3920.69" y="1797.23" width="187.31" height="30.43" fill="#835f7c"/><rect x="1111.00" y="1827.65" width="187.31" height="30.43" fill="#e9ceba"/><rect x="1298.31" y="1827.65" width="187.31" height="30.43" fill="#734e72"/><rect x="1485.62" y="1827.65" width="187.31" height="30.43" fill="#d8bbaf"/><rect x="1672.94" y="1827.65" width="187.31" height="30.43" fill="#d8bbaf"/><rect x="1860.25" y="1827.65" width="187.31" height="30.43" fill="#e9ceba"/><rect x="2047.56" y="1827.65" width="187.31" height="30.43" fill="#b5959a"/><rect x="2422.19" y="1827.65" width="187.31" height="30.43" fill="#d8bbaf"/><rect x="2609.50" y="1827.65" width="187.31" height="30.43" fill="#c7a8a5"/><rect x="2796.81" y="1827.65" width="187.31" height="30.43" fill="#947186"/><rect x="2984.12" y="1827.65" width="187.31" height="30.43" fill="#947186"/><rect x="3171.44" y="1827.65" width="187.31" height="30.43" fill="#623e68"/><rect x="3358.75" y="1827.65" width="187.31" height="30.43" fill="#734e72"/><rect x="3546.06" y="1827.65" width="187.31" height="30.43" fill="#947186"/><rect x="3733.38" y="1827.65" width="187.31" height="30.43" fill="#421d54"/><rect x="3920.69" y="1827.65" width="187.31" height="30.43" fill="#947186"/><rect x="1111.00" y="1858.08" width="187.31" height="30.43" fill="#c7a8a5"/><rect x="1298.31" y="1858.08" width="187.31" height="30.43" fill="#b5959a"/><rect x="1485.62" y="1858.08" width="187.31" height="30.43" fill="#947186"/><rect x="1672.94" y="1858.08" width="187.31" height="30.43" fill="#c7a8a5"/><rect x="1860.25" y="1858.08" width="187.31" height="30.43" fill="#c7a8a5"/><rect x="2047.56" y="1858.08" width="187.31" height="30.43" fill="#d8bbaf"/><rect x="2234.88" y="1858.08" width="187.31" height="30.43" fill="#d8bbaf"/><rect x="2422.19" y="1858.08" width="187.31" height="30.43" fill="#d8bbaf"/><rect x="2609.50" y="1858.08" width="187.31" height="30.43" fill="#835f7c"/><rect x="2796.81" y="1858.08" width="187.31" height="30.43" fill="#623e68"/><rect x="2984.12" y="1858.08" width="187.31" height="30.43" fill="#623e68"/><rect x="3171.44" y="1858.08" width="187.31" height="30.43" fill="#947186"/><rect x="3358.75" y="1858.08" width="187.31" height="30.43" fill="#b5959a"/><rect x="3546.06" y="1858.08" width="187.31" height="30.43" fill="#d8bbaf"/><rect x="3733.38" y="1858.08" width="187.31" height="30.43" fill="#a48390"/><rect x="3920.69" y="1858.08" width="187.31" height="30.43" fill="#947186"/><rect x="1298.31" y="1888.50" width="187.31" height="30.43" fill="#fbe2c4"/><rect x="1672.94" y="1888.50" width="187.31" height="30.43" fill="#d8bbaf"/><rect x="1860.25" y="1888.50" width="187.31" height="30.43" fill="#835f7c"/><rect x="2047.56" y="1888.50" width="187.31" height="30.43" fill="#d8bbaf"/><rect x="2422.19" y="1888.50" width="187.31" height="30.43" fill="#e9ceba"/><rect x="2609.50" y="1888.50" width="187.31" height="30.43" fill="#947186"/><rect x="2796.81" y="1888.50" width="187.31" height="30.43" fill="#623e68"/><rect x="2984.12" y="1888.50" width="187.31" height="30.43" fill="#623e68"/><rect x="3171.44" y="1888.50" width="187.31" height="30.43" fill="#947186"/><rect x="3358.75" y="1888.50" width="187.31" height="30.43" fill="#c7a8a5"/><rect x="3546.06" y="1888.50" width="187.31" height="30.43" fill="#623e68"/><rect x="3733.38" y="1888.50" width="187.31" height="30.43" fill="#522d5e"/><rect x="3920.69" y="1888.50" width="187.31" height="30.43" fill="#835f7c"/><rect x="2609.50" y="1918.93" width="187.31" height="30.43" fill="#d8bbaf"/><rect x="2796.81" y="1918.93" width="187.31" height="30.43" fill="#835f7c"/><rect x="2984.12" y="1918.93" width="187.31" height="30.43" fill="#522d5e"/><rect x="3171.44" y="1918.93" width="187.31" height="30.43" fill="#421d54"/><rect x="3358.75" y="1918.93" width="187.31" height="30.43" fill="#734e72"/><rect x="3546.06" y="1918.93" width="187.31" height="30.43" fill="#421d54"/><rect x="3733.38" y="1918.93" width="187.31" height="30.43" fill="#522d5e"/><rect x="3920.69" y="1918.93" width="187.31" height="30.43" fill="#947186"/><rect x="2796.81" y="1949.36" width="187.31" height="30.43" fill="#b5959a"/><rect x="2984.12" y="1949.36" width="187.31" height="30.43" fill="#522d5e"/><rect x="3171.44" y="1949.36" width="187.31" height="30.43" fill="#310c4a"/><rect x="3358.75" y="1949.36" width="187.31" height="30.43" fill="#522d5e"/><rect x="3546.06" y="1949.36" width="187.31" height="30.43" fill="#522d5e"/><rect x="3733.38" y="1949.36" width="187.31" height="30.43" fill="#310c4a"/><rect x="3920.69" y="1949.36" width="187.31" height="30.43" fill="#947186"/><rect x="1111.00" y="1979.78" width="187.31" height="30.43" fill="#a48390"/><rect x="1298.31" y="1979.78" width="187.31" height="30.43" fill="#b5959a"/><rect x="1485.62" y="1979.78" width="187.31" height="30.43" fill="#b5959a"/><rect x="1672.94" y="1979.78" width="187.31" height="30.43" fill="#a48390"/><rect x="1860.25" y="1979.78" width="187.31" height="30.43" fill="#e9ceba"/><rect x="2047.56" y="1979.78" width="187.31" height="30.43" fill="#c7a8a5"/><rect x="2234.88" y="1979.78" width="187.31" height="30.43" fill="#d8bbaf"/><rect x="2422.19" y="1979.78" width="187.31" height="30.43" fill="#835f7c"/><rect x="2609.50" y="1979.78" width="187.31" height="30.43" fill="#b5959a"/><rect x="2796.81" y="1979.78" width="187.31" height="30.43" fill="#b5959a"/><rect x="2984.12" y="1979.78" width="187.31" height="30.43" fill="#a48390"/><rect x="3171.44" y="1979.78" width="187.31" height="30.43" fill="#a48390"/><rect x="3358.75" y="1979.78" width="187.31" height="30.43" fill="#a48390"/><rect x="3546.06" y="1979.78" width="187.31" height="30.43" fill="#b5959a"/><rect x="3733.38" y="1979.78" width="187.31" height="30.43" fill="#b5959a"/><rect x="3920.69" y="1979.78" width="187.31" height="30.43" fill="#d8bbaf"/><rect x="1111.00" y="2010.21" width="187.31" height="30.43" fill="#e9ceba"/><rect x="1298.31" y="2010.21" width="187.31" height="30.43" fill="#b5959a"/><rect x="1485.62" y="2010.21" width="187.31" height="30.43" fill="#a48390"/><rect x="1672.94" y="2010.21" width="187.31" height="30.43" fill="#c7a8a5"/><rect x="1860.25" y="2010.21" width="187.31" height="30.43" fill="#734e72"/><rect x="2047.56" y="2010.21" width="187.31" height="30.43" fill="#b5959a"/><rect x="2234.88" y="2010.21" width="187.31" height="30.43" fill="#947186"/><rect x="2422.19" y="2010.21" width="187.31" height="30.43" fill="#d8bbaf"/><rect x="2609.50" y="2010.21" width="187.31" height="30.43" fill="#e9ceba"/><rect x="2796.81" y="2010.21" width="187.31" height="30.43" fill="#c7a8a5"/><rect x="2984.12" y="2010.21" width="187.31" height="30.43" fill="#c7a8a5"/><rect x="3171.44" y="2010.21" width="187.31" height="30.43" fill="#b5959a"/><rect x="3358.75" y="2010.21" width="187.31" height="30.43" fill="#d8bbaf"/><rect x="3546.06" y="2010.21" width="187.31" height="30.43" fill="#b5959a"/><rect x="3733.38" y="2010.21" width="187.31" height="30.43" fill="#835f7c"/><rect x="3920.69" y="2010.21" width="187.31" height="30.43" fill="#a48390"/><rect x="1111.00" y="2040.63" width="187.31" height="30.43" fill="#835f7c"/><rect x="1298.31" y="2040.63" width="187.31" height="30.43" fill="#c7a8a5"/><rect x="2609.50" y="2040.63" width="187.31" height="30.43" fill="#e9ceba"/><rect x="2796.81" y="2040.63" width="187.31" height="30.43" fill="#835f7c"/><rect x="2984.12" y="2040.63" width="187.31" height="30.43" fill="#522d5e"/><rect x="3171.44" y="2040.63" width="187.31" height="30.43" fill="#835f7c"/><rect x="3358.75" y="2040.63" width="187.31" height="30.43" fill="#835f7c"/><rect x="3546.06" y="2040.63" width="187.31" height="30.43" fill="#947186"/><rect x="3733.38" y="2040.63" width="187.31" height="30.43" fill="#623e68"/><rect x="3920.69" y="2040.63" width="187.31" height="30.43" fill="#b5959a"/><rect x="1111.00" y="2071.06" width="187.31" height="30.43" fill="#d8bbaf"/><rect x="1298.31" y="2071.06" width="187.31" height="30.43" fill="#b5959a"/><rect x="1485.62" y="2071.06" width="187.31" height="30.43" fill="#fbe2c4"/><rect x="1860.25" y="2071.06" width="187.31" height="30.43" fill="#e9ceba"/><rect x="2047.56" y="2071.06" width="187.31" height="30.43" fill="#835f7c"/><rect x="2234.88" y="2071.06" width="187.31" height="30.43" fill="#734e72"/><rect x="2422.19" y="2071.06" width="187.31" height="30.43" fill="#c7a8a5"/><rect x="2609.50" y="2071.06" width="187.31" height="30.43" fill="#c7a8a5"/><rect x="2796.81" y="2071.06" width="187.31" height="30.43" fill="#d8bbaf"/><rect x="2984.12" y="2071.06" width="187.31" height="30.43" fill="#c7a8a5"/><rect x="3171.44" y="2071.06" width="187.31" height="30.43" fill="#835f7c"/><rect x="3358.75" y="2071.06" width="187.31" height="30.43" fill="#a48390"/><rect x="3546.06" y="2071.06" width="187.31" height="30.43" fill="#a48390"/><rect x="3733.38" y="2071.06" width="187.31" height="30.43" fill="#a48390"/><rect x="3920.69" y="2071.06" width="187.31" height="30.43" fill="#947186"/><rect x="1111.00" y="2101.49" width="187.31" height="30.43" fill="#fbe2c4"/><rect x="1298.31" y="2101.49" width="187.31" height="30.43" fill="#d8bbaf"/><rect x="1485.62" y="2101.49" width="187.31" height="30.43" fill="#c7a8a5"/><rect x="1672.94" y="2101.49" width="187.31" height="30.43" fill="#c7a8a5"/><rect x="1860.25" y="2101.49" width="187.31" height="30.43" fill="#d8bbaf"/><rect x="2047.56" y="2101.49" width="187.31" height="30.43" fill="#734e72"/><rect x="2234.88" y="2101.49" width="187.31" height="30.43" fill="#421d54"/><rect x="2422.19" y="2101.49" width="187.31" height="30.43" fill="#e9ceba"/><rect x="2609.50" y="2101.49" width="187.31" height="30.43" fill="#e9ceba"/><rect x="2796.81" y="2101.49" width="187.31" height="30.43" fill="#e9ceba"/><rect x="2984.12" y="2101.49" width="187.31" height="30.43" fill="#a48390"/><rect x="3171.44" y="2101.49" width="187.31" height="30.43" fill="#522d5e"/><rect x="3358.75" y="2101.49" width="187.31" height="30.43" fill="#623e68"/><rect x="3546.06" y="2101.49" width="187.31" height="30.43" fill="#b5959a"/><rect x="3733.38" y="2101.49" width="187.31" height="30.43" fill="#e9ceba"/><rect x="3920.69" y="2101.49" width="187.31" height="30.43" fill="#fbe2c4"/><rect x="1111.00" y="2131.91" width="187.31" height="30.43" fill="#623e68"/><rect x="1298.31" y="2131.91" width="187.31" height="30.43" fill="#421d54"/><rect x="1485.62" y="2131.91" width="187.31" height="30.43" fill="#d8bbaf"/><rect x="1672.94" y="2131.91" width="187.31" height="30.43" fill="#e9ceba"/><rect x="2984.12" y="2131.91" width="187.31" height="30.43" fill="#e9ceba"/><rect x="3171.44" y="2131.91" width="187.31" height="30.43" fill="#522d5e"/><rect x="3358.75" y="2131.91" width="187.31" height="30.43" fill="#835f7c"/><rect x="3546.06" y="2131.91" width="187.31" height="30.43" fill="#835f7c"/><rect x="3733.38" y="2131.91" width="187.31" height="30.43" fill="#835f7c"/><rect x="3920.69" y="2131.91" width="187.31" height="30.43" fill="#a48390"/><rect x="1111.00" y="2162.34" width="187.31" height="30.43" fill="#310c4a"/><rect x="1298.31" y="2162.34" width="187.31" height="30.43" fill="#623e68"/><rect x="1485.62" y="2162.34" width="187.31" height="30.43" fill="#e9ceba"/><rect x="1672.94" y="2162.34" width="187.31" height="30.43" fill="#fbe2c4"/><rect x="1860.25" y="2162.34" width="187.31" height="30.43" fill="#fbe2c4"/><rect x="2047.56" y="2162.34" width="187.31" height="30.43" fill="#fbe2c4"/><rect x="2234.88" y="2162.34" width="187.31" height="30.43" fill="#a48390"/><rect x="2422.19" y="2162.34" width="187.31" height="30.43" fill="#b5959a"/><rect x="2609.50" y="2162.34" width="187.31" height="30.43" fill="#947186"/><rect x="2796.81" y="2162.34" width="187.31" height="30.43" fill="#c7a8a5"/><rect x="2984.12" y="2162.34" width="187.31" height="30.43" fill="#e9ceba"/><rect x="3171.44" y="2162.34" width="187.31" height="30.43" fill="#e9ceba"/><rect x="3358.75" y="2162.34" width="187.31" height="30.43" fill="#d8bbaf"/><rect x="3546.06" y="2162.34" width="187.31" height="30.43" fill="#c7a8a5"/><rect x="3733.38" y="2162.34" width="187.31" height="30.43" fill="#947186"/><rect x="3920.69" y="2162.34" width="187.31" height="30.43" fill="#a48390"/><rect x="1111.00" y="2192.77" width="187.31" height="30.43" fill="#c7a8a5"/><rect x="1298.31" y="2192.77" width="187.31" height="30.43" fill="#c7a8a5"/><rect x="1485.62" y="2192.77" width="187.31" height="30.43" fill="#c7a8a5"/><rect x="1860.25" y="2192.77" width="187.31" height="30.43" fill="#e9ceba"/><rect x="2047.56" y="2192.77" width="187.31" height="30.43" fill="#d8bbaf"/><rect x="2234.88" y="2192.77" width="187.31" height="30.43" fill="#e9ceba"/><rect x="2422.19" y="2192.77" width="187.31" height="30.43" fill="#e9ceba"/><rect x="2609.50" y="2192.77" width="187.31" height="30.43" fill="#b5959a"/><rect x="2796.81" y="2192.77" width="187.31" height="30.43" fill="#947186"/><rect x="2984.12" y="2192.77" width="187.31" height="30.43" fill="#947186"/><rect x="3171.44" y="2192.77" width="187.31" height="30.43" fill="#a48390"/><rect x="3358.75" y="2192.77" width="187.31" height="30.43" fill="#947186"/><rect x="3546.06" y="2192.77" width="187.31" height="30.43" fill="#a48390"/><rect x="3733.38" y="2192.77" width="187.31" height="30.43" fill="#522d5e"/><rect x="3920.69" y="2192.77" width="187.31" height="30.43" fill="#d8bbaf"/><rect x="1111.00" y="2223.19" width="187.31" height="30.43" fill="#d8bbaf"/><rect x="1298.31" y="2223.19" width="187.31" height="30.43" fill="#fbe2c4"/><rect x="1485.62" y="2223.19" width="187.31" height="30.43" fill="#e9ceba"/><rect x="1672.94" y="2223.19" width="187.31" height="30.43" fill="#947186"/><rect x="1860.25" y="2223.19" width="187.31" height="30.43" fill="#c7a8a5"/><rect x="2047.56" y="2223.19" width="187.31" height="30.43" fill="#c7a8a5"/><rect x="2234.88" y="2223.19" width="187.31" height="30.43" fill="#a48390"/><rect x="2422.19" y="2223.19" width="187.31" height="30.43" fill="#947186"/><rect x="2609.50" y="2223.19" width="187.31" height="30.43" fill="#b5959a"/><rect x="2796.81" y="2223.19" width="187.31" height="30.43" fill="#c7a8a5"/><rect x="2984.12" y="2223.19" width="187.31" height="30.43" fill="#d8bbaf"/><rect x="3171.44" y="2223.19" width="187.31" height="30.43" fill="#c7a8a5"/><rect x="3358.75" y="2223.19" width="187.31" height="30.43" fill="#947186"/><rect x="3546.06" y="2223.19" width="187.31" height="30.43" fill="#c7a8a5"/><rect x="3733.38" y="2223.19" width="187.31" height="30.43" fill="#835f7c"/><rect x="3920.69" y="2223.19" width="187.31" height="30.43" fill="#b5959a"/><rect x="1111.00" y="2253.62" width="187.31" height="30.43" fill="#522d5e"/><rect x="1485.62" y="2253.62" width="187.31" height="30.43" fill="#c7a8a5"/><rect x="1672.94" y="2253.62" width="187.31" height="30.43" fill="#d8bbaf"/><rect x="1860.25" y="2253.62" width="187.31" height="30.43" fill="#c7a8a5"/><rect x="2422.19" y="2253.62" width="187.31" height="30.43" fill="#fbe2c4"/><rect x="2609.50" y="2253.62" width="187.31" height="30.43" fill="#a48390"/><rect x="2796.81" y="2253.62" width="187.31" height="30.43" fill="#e9ceba"/><rect x="2984.12" y="2253.62" width="187.31" height="30.43" fill="#d8bbaf"/><rect x="3171.44" y="2253.62" width="187.31" height="30.43" fill="#b5959a"/><rect x="3358.75" y="2253.62" width="187.31" height="30.43" fill="#947186"/><rect x="3546.06" y="2253.62" width="187.31" height="30.43" fill="#a48390"/><rect x="3733.38" y="2253.62" width="187.31" height="30.43" fill="#623e68"/><rect x="3920.69" y="2253.62" width="187.31" height="30.43" fill="#947186"/><rect x="1111.00" y="2284.04" width="187.31" height="30.43" fill="#947186"/><rect x="1298.31" y="2284.04" width="187.31" height="30.43" fill="#c7a8a5"/><rect x="1485.62" y="2284.04" width="187.31" height="30.43" fill="#fbe2c4"/><rect x="1672.94" y="2284.04" width="187.31" height="30.43" fill="#d8bbaf"/><rect x="1860.25" y="2284.04" width="187.31" height="30.43" fill="#e9ceba"/><rect x="2047.56" y="2284.04" width="187.31" height="30.43" fill="#e9ceba"/><rect x="2984.12" y="2284.04" width="187.31" height="30.43" fill="#835f7c"/><rect x="3171.44" y="2284.04" width="187.31" height="30.43" fill="#835f7c"/><rect x="3358.75" y="2284.04" width="187.31" height="30.43" fill="#835f7c"/><rect x="3546.06" y="2284.04" width="187.31" height="30.43" fill="#522d5e"/><rect x="3733.38" y="2284.04" width="187.31" height="30.43" fill="#835f7c"/><rect x="3920.69" y="2284.04" width="187.31" height="30.43" fill="#a48390"/><rect x="1111.00" y="2314.47" width="187.31" height="30.43" fill="#835f7c"/><rect x="1298.31" y="2314.47" width="187.31" height="30.43" fill="#e9ceba"/><rect x="1485.62" y="2314.47" width="187.31" height="30.43" fill="#e9ceba"/><rect x="1672.94" y="2314.47" width="187.31" height="30.43" fill="#c7a8a5"/><rect x="1860.25" y="2314.47" width="187.31" height="30.43" fill="#b5959a"/><rect x="2047.56" y="2314.47" width="187.31" height="30.43" fill="#d8bbaf"/><rect x="2234.88" y="2314.47" width="187.31" height="30.43" fill="#a48390"/><rect x="2422.19" y="2314.47" width="187.31" height="30.43" fill="#835f7c"/><rect x="2609.50" y="2314.47" width="187.31" height="30.43" fill="#b5959a"/><rect x="2796.81" y="2314.47" width="187.31" height="30.43" fill="#b5959a"/><rect x="2984.12" y="2314.47" width="187.31" height="30.43" fill="#c7a8a5"/><rect x="3171.44" y="2314.47" width="187.31" height="30.43" fill="#b5959a"/><rect x="3358.75" y="2314.47" width="187.31" height="30.43" fill="#fbe2c4"/><rect x="3546.06" y="2314.47" width="187.31" height="30.43" fill="#d8bbaf"/><rect x="3733.38" y="2314.47" width="187.31" height="30.43" fill="#c7a8a5"/><rect x="3920.69" y="2314.47" width="187.31" height="30.43" fill="#a48390"/><rect x="1298.31" y="2344.90" width="187.31" height="30.43" fill="#e9ceba"/><rect x="1672.94" y="2344.90" width="187.31" height="30.43" fill="#b5959a"/><rect x="1860.25" y="2344.90" width="187.31" height="30.43" fill="#e9ceba"/><rect x="2047.56" y="2344.90" width="187.31" height="30.43" fill="#947186"/><rect x="2234.88" y="2344.90" width="187.31" height="30.43" fill="#d8bbaf"/><rect x="2422.19" y="2344.90" width="187.31" height="30.43" fill="#e9ceba"/><rect x="2609.50" y="2344.90" width="187.31" height="30.43" fill="#a48390"/><rect x="2796.81" y="2344.90" width="187.31" height="30.43" fill="#947186"/><rect x="2984.12" y="2344.90" width="187.31" height="30.43" fill="#947186"/><rect x="3171.44" y="2344.90" width="187.31" height="30.43" fill="#b5959a"/><rect x="3358.75" y="2344.90" width="187.31" height="30.43" fill="#a48390"/><rect x="3546.06" y="2344.90" width="187.31" height="30.43" fill="#c7a8a5"/><rect x="3733.38" y="2344.90" width="187.31" height="30.43" fill="#623e68"/><rect x="3920.69" y="2344.90" width="187.31" height="30.43" fill="#e9ceba"/><rect x="2609.50" y="2375.32" width="187.31" height="30.43" fill="#b5959a"/><rect x="2796.81" y="2375.32" width="187.31" height="30.43" fill="#e9ceba"/><rect x="2984.12" y="2375.32" width="187.31" height="30.43" fill="#623e68"/><rect x="3171.44" y="2375.32" width="187.31" height="30.43" fill="#835f7c"/><rect x="3358.75" y="2375.32" width="187.31" height="30.43" fill="#734e72"/><rect x="3546.06" y="2375.32" width="187.31" height="30.43" fill="#b5959a"/><rect x="3733.38" y="2375.32" width="187.31" height="30.43" fill="#623e68"/><rect x="3920.69" y="2375.32" width="187.31" height="30.43" fill="#835f7c"/><rect x="2234.88" y="2405.75" width="187.31" height="30.43" fill="#e9ceba"/><rect x="2609.50" y="2405.75" width="187.31" height="30.43" fill="#fbe2c4"/><rect x="2796.81" y="2405.75" width="187.31" height="30.43" fill="#947186"/><rect x="2984.12" y="2405.75" width="187.31" height="30.43" fill="#421d54"/><rect x="3171.44" y="2405.75" width="187.31" height="30.43" fill="#b5959a"/><rect x="3358.75" y="2405.75" width="187.31" height="30.43" fill="#734e72"/><rect x="3546.06" y="2405.75" width="187.31" height="30.43" fill="#a48390"/><rect x="3733.38" y="2405.75" width="187.31" height="30.43" fill="#a48390"/><rect x="3920.69" y="2405.75" width="187.31" height="30.43" fill="#d8bbaf"/><rect x="1111.00" y="2436.17" width="187.31" height="30.43" fill="#b5959a"/><rect x="1298.31" y="2436.17" width="187.31" height="30.43" fill="#e9ceba"/><rect x="1485.62" y="2436.17" width="187.31" height="30.43" fill="#b5959a"/><rect x="1672.94" y="2436.17" width="187.31" height="30.43" fill="#d8bbaf"/><rect x="1860.25" y="2436.17" width="187.31" height="30.43" fill="#d8bbaf"/><rect x="2047.56" y="2436.17" width="187.31" height="30.43" fill="#e9ceba"/><rect x="2234.88" y="2436.17" width="187.31" height="30.43" fill="#d8bbaf"/><rect x="2422.19" y="2436.17" width="187.31" height="30.43" fill="#e9ceba"/><rect x="2609.50" y="2436.17" width="187.31" height="30.43" fill="#a48390"/><rect x="2796.81" y="2436.17" width="187.31" height="30.43" fill="#e9ceba"/><rect x="2984.12" y="2436.17" width="187.31" height="30.43" fill="#d8bbaf"/><rect x="3171.44" y="2436.17" width="187.31" height="30.43" fill="#e9ceba"/><rect x="3358.75" y="2436.17" width="187.31" height="30.43" fill="#c7a8a5"/><rect x="3546.06" y="2436.17" width="187.31" height="30.43" fill="#e9ceba"/><rect x="3733.38" y="2436.17" width="187.31" height="30.43" fill="#d8bbaf"/><rect x="3920.69" y="2436.17" width="187.31" height="30.43" fill="#fbe2c4"/></g>
<text transform="translate(918.2,1112.21) scale(1,1.0)" x="0" y="0" text-anchor="end" font-size="82.7">Garland</text><text transform="translate(918.2,1142.64) scale(1,1.0)" x="0" y="0" text-anchor="end" font-size="82.7">Fort Bend</text><text transform="translate(918.2,1173.07) scale(1,1.0)" x="0" y="0" text-anchor="end" font-size="82.7">Sherman-Denison</text><text transform="translate(918.2,1203.49) scale(1,1.0)" x="0" y="0" text-anchor="end" font-size="82.7">Paris</text><text transform="translate(918.2,1233.92) scale(1,1.0)" x="0" y="0" text-anchor="end" font-size="82.7">Montgomery County</text><text transform="translate(918.2,1264.34) scale(1,1.0)" x="0" y="0" text-anchor="end" font-size="82.7">Galveston</text><text transform="translate(918.2,1294.77) scale(1,1.0)" x="0" y="0" text-anchor="end" font-size="82.7">Irving</text><text transform="translate(918.2,1325.20) scale(1,1.0)" x="0" y="0" text-anchor="end" font-size="82.7">Victoria</text><text transform="translate(918.2,1355.62) scale(1,1.0)" x="0" y="0" text-anchor="end" font-size="82.7">Denton County</text><text transform="translate(918.2,1386.05) scale(1,1.0)" x="0" y="0" text-anchor="end" font-size="82.7">Austin</text><text transform="translate(918.2,1416.47) scale(1,1.0)" x="0" y="0" text-anchor="end" font-size="82.7">Arlington</text><text transform="translate(918.2,1446.90) scale(1,1.0)" x="0" y="0" text-anchor="end" font-size="82.7">San Antonio</text><text transform="translate(918.2,1477.33) scale(1,1.0)" x="0" y="0" text-anchor="end" font-size="82.7">El Paso</text><text transform="translate(918.2,1507.75) scale(1,1.0)" x="0" y="0" text-anchor="end" font-size="82.7">Wichita Falls</text><text transform="translate(918.2,1538.18) scale(1,1.0)" x="0" y="0" text-anchor="end" font-size="82.7">Collin County</text><text transform="translate(918.2,1568.60) scale(1,1.0)" x="0" y="0" text-anchor="end" font-size="82.7">Midland</text><text transform="translate(918.2,1599.03) scale(1,1.0)" x="0" y="0" text-anchor="end" font-size="82.7">Harlingen</text><text transform="translate(918.2,1629.46) scale(1,1.0)" x="0" y="0" text-anchor="end" font-size="82.7">Corpus Christi</text><text transform="translate(918.2,1659.88) scale(1,1.0)" x="0" y="0" text-anchor="end" font-size="82.7">Abilene</text><text transform="translate(918.2,1690.31) scale(1,1.0)" x="0" y="0" text-anchor="end" font-size="82.7">Beaumont</text><text transform="translate(918.2,1720.73) scale(1,1.0)" x="0" y="0" text-anchor="end" font-size="82.7">San Angelo</text><text transform="translate(918.2,1751.16) scale(1,1.0)" x="0" y="0" text-anchor="end" font-size="82.7">Port Arthur</text><text transform="translate(918.2,1781.59) scale(1,1.0)" x="0" y="0" text-anchor="end" font-size="82.7">Nacogdoches</text><text transform="translate(918.2,1812.01) scale(1,1.0)" x="0" y="0" text-anchor="end" font-size="82.7">Dallas</text><text transform="translate(918.2,1842.44) scale(1,1.0)" x="0" y="0" text-anchor="end" font-size="82.7">Temple-Belton</text><text transform="translate(918.2,1872.87) scale(1,1.0)" x="0" y="0" text-anchor="end" font-size="82.7">Killeen-Fort Hood</text><text transform="translate(918.2,1903.29) scale(1,1.0)" x="0" y="0" text-anchor="end" font-size="82.7">NE Tarrant County</text><text transform="translate(918.2,1933.72) scale(1,1.0)" x="0" y="0" text-anchor="end" font-size="82.7">Texarkana</text><text transform="translate(918.2,1964.14) scale(1,1.0)" x="0" y="0" text-anchor="end" font-size="82.7">Kerrville</text><text transform="translate(918.2,1994.57) scale(1,1.0)" x="0" y="0" text-anchor="end" font-size="82.7">South Padre Island</text><text transform="translate(918.2,2025.00) scale(1,1.0)" x="0" y="0" text-anchor="end" font-size="82.7">Bryan-College Station</text><text transform="translate(918.2,2055.42) scale(1,1.0)" x="0" y="0" text-anchor="end" font-size="82.7">Tyler</text><text transform="translate(918.2,2085.85) scale(1,1.0)" x="0" y="0" text-anchor="end" font-size="82.7">San Marcos</text><text transform="translate(918.2,2116.27) scale(1,1.0)" x="0" y="0" text-anchor="end" font-size="82.7">Longview-Marshall</text><text transform="translate(918.2,2146.70) scale(1,1.0)" x="0" y="0" text-anchor="end" font-size="82.7">Fort Worth</text><text transform="translate(918.2,2177.13) scale(1,1.0)" x="0" y="0" text-anchor="end" font-size="82.7">Brownsville</text><text transform="translate(918.2,2207.55) scale(1,1.0)" x="0" y="0" text-anchor="end" font-size="82.7">Houston</text><text transform="translate(918.2,2237.98) scale(1,1.0)" x="0" y="0" text-anchor="end" font-size="82.7">Brazoria County</text><text transform="translate(918.2,2268.40) scale(1,1.0)" x="0" y="0" text-anchor="end" font-size="82.7">Amarillo</text><text transform="translate(918.2,2298.83) scale(1,1.0)" x="0" y="0" text-anchor="end" font-size="82.7">McAllen</text><text transform="translate(918.2,2329.26) scale(1,1.0)" x="0" y="0" text-anchor="end" font-size="82.7">Lufkin</text><text transform="translate(918.2,2359.68) scale(1,1.0)" x="0" y="0" text-anchor="end" font-size="82.7">Lubbock</text><text transform="translate(918.2,2390.11) scale(1,1.0)" x="0" y="0" text-anchor="end" font-size="82.7">Waco</text><text transform="translate(918.2,2420.53) scale(1,1.0)" x="0" y="0" text-anchor="end" font-size="82.7">Laredo</text><text transform="translate(918.2,2450.96) scale(1,1.0)" x="0" y="0" text-anchor="end" font-size="82.7">Odessa</text><text transform="translate(918.2,2481.39) scale(1,1.0)" x="0" y="0" text-anchor="end" font-size="82.7">Bay Area</text><text transform="translate(1203.36,2571.3) scale(1,1.025)" x="0" y="0" text-anchor="middle" font-size="82.7">2000</text><text transform="translate(2139.92,2571.3) scale(1,1.025)" x="0" y="0" text-anchor="middle" font-size="82.7">2005</text><text transform="translate(3076.48,2571.3) scale(1,1.025)" x="0" y="0" text-anchor="middle" font-size="82.7">2010</text><text transform="translate(4013.04,2571.3) scale(1,1.025)" x="0" y="0" text-anchor="middle" font-size="82.7">2015</text><rect x="118.0" y="726.1" width="1535.7" height="59.0" fill="url(#lg)"/><rect x="118.90" y="726.1" width="3.2" height="28.60" fill="#fff"/><rect x="118.90" y="756.50" width="3.2" height="28.60" fill="#fff"/><text transform="translate(120.80,892.0) scale(1,1.04)" x="0" y="0" text-anchor="middle" font-size="82.7">0</text><rect x="501.52" y="726.1" width="3.2" height="28.60" fill="#fff"/><rect x="501.52" y="756.50" width="3.2" height="28.60" fill="#fff"/><text transform="translate(503.43,892.0) scale(1,1.04)" x="0" y="0" text-anchor="middle" font-size="82.7">3</text><rect x="884.15" y="726.1" width="3.2" height="28.60" fill="#fff"/><rect x="884.15" y="756.50" width="3.2" height="28.60" fill="#fff"/><text transform="translate(886.05,892.0) scale(1,1.04)" x="0" y="0" text-anchor="middle" font-size="82.7">6</text><rect x="1266.78" y="726.1" width="3.2" height="28.60" fill="#fff"/><rect x="1266.78" y="756.50" width="3.2" height="28.60" fill="#fff"/><text transform="translate(1268.67,892.0) scale(1,1.04)" x="0" y="0" text-anchor="middle" font-size="82.7">9</text><rect x="1649.40" y="726.1" width="3.2" height="28.60" fill="#fff"/><rect x="1649.40" y="756.50" width="3.2" height="28.60" fill="#fff"/><text transform="translate(1651.30,892.0) scale(1,1.04)" x="0" y="0" text-anchor="middle" font-size="82.7">12</text><text transform="translate(117.5,242.6) scale(1,1.035)" x="0" y="0" font-size="146.6" font-weight="bold">Set of observations contributing to identification</text><text transform="translate(119,409.2) scale(1,1.005)" x="0" y="0" font-size="100.5" textLength="2395.9" lengthAdjust="spacing">Removing observations outside the "effective sample"</text><text transform="translate(119,518.3) scale(1,1.005)" x="0" y="0" font-size="100.5" textLength="2559.8" lengthAdjust="spacing">would change the point estimate and s.e. by less than 5%</text><text transform="translate(117.5,668.2) scale(1,1.0)" x="0" y="0" font-size="91.8" textLength="1473.0" lengthAdjust="spacing">Number of contributing observations</text>
</svg></body></html>
